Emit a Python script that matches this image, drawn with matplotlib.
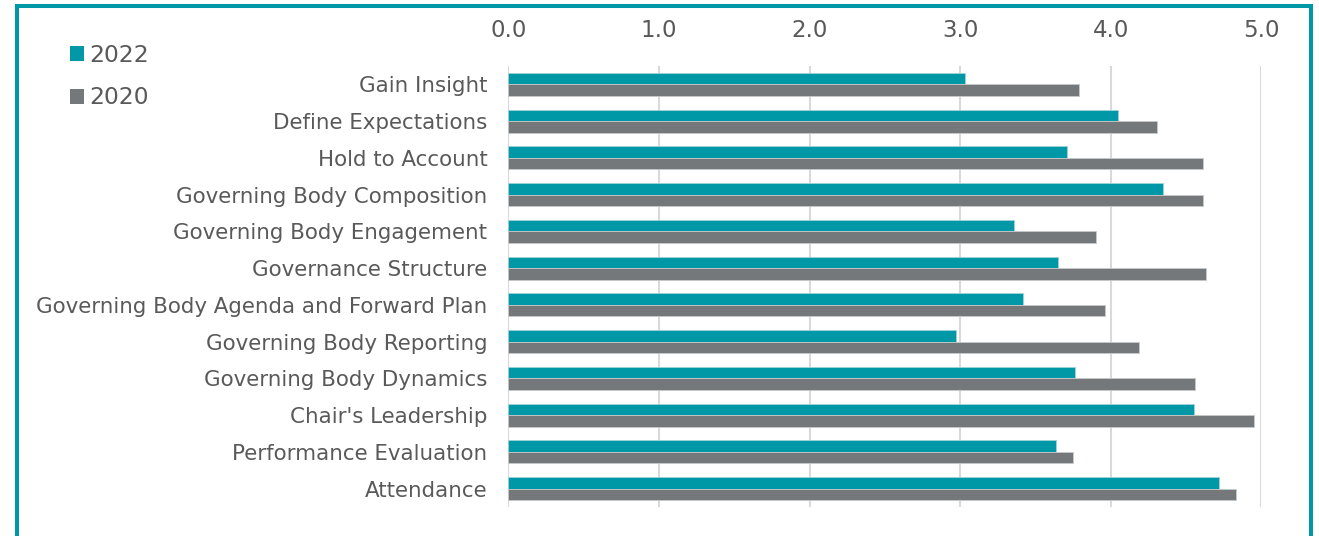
import matplotlib
matplotlib.use("Agg")
import matplotlib.pyplot as plt
import numpy as np
from matplotlib.patches import Patch, Rectangle

categories = ["Gain Insight", "Define Expectations", "Hold to Account",
              "Governing Body Composition", "Governing Body Engagement",
              "Governance Structure", "Governing Body Agenda and Forward Plan",
              "Governing Body Reporting", "Governing Body Dynamics",
              "Chair's Leadership", "Performance Evaluation", "Attendance"]
values_2022 = [3.03, 4.05, 3.71, 4.35, 3.36, 3.65, 3.42, 2.97, 3.76, 4.55, 3.64, 4.72]
values_2020 = [3.79, 4.31, 4.61, 4.61, 3.90, 4.63, 3.96, 4.19, 4.56, 4.95, 3.75, 4.83]
xticks = [0, 1, 2, 3, 4, 5]
xtick_labels = ["0.0", "1.0", "2.0", "3.0", "4.0", "5.0"]

TEAL = "#0097A7"
GRAY = "#75787B"
TEXT = "#595959"

W, H = 1319, 536
fig = plt.figure(figsize=(W / 100, H / 100), dpi=100)
ax = fig.add_axes([508.3 / W, 1 - 507 / H, (1261.3 - 508.3) / W, (507 - 66) / H])

y = np.arange(len(categories))
h = 0.31
ax.barh(y - h / 2, values_2022, height=h, color=TEAL, edgecolor="#9fd3da", linewidth=0.6, zorder=3)
ax.barh(y + h / 2, values_2020, height=h, color=GRAY, edgecolor="#c8c9ca", linewidth=0.6, zorder=3)

ax.set_ylim(len(categories) - 0.5, -0.5)
ax.set_xlim(0, 5)
ax.set_yticks(y)
ax.set_yticklabels(categories)
ax.set_xticks(xticks)
ax.set_xticklabels(xtick_labels)
ax.xaxis.tick_top()
ax.tick_params(axis="x", length=0, pad=17, labelsize=16.5, labelcolor=TEXT)
ax.tick_params(axis="y", length=0, pad=15, labelsize=15.4, labelcolor=TEXT)
for s in ax.spines.values():
    s.set_visible(False)
ax.grid(axis="x", color="#D9D9D9", linewidth=1.5, zorder=0)
ax.set_axisbelow(True)

handles = [Patch(facecolor=TEAL, edgecolor="none"), Patch(facecolor=GRAY, edgecolor="none")]
fig.legend(handles, ["2022", "2020"], loc="upper left",
           bbox_to_anchor=(58 / W, 1 - 32 / H), frameon=False,
           fontsize=16.8, labelcolor=TEXT, handlelength=0.6, handleheight=0.6,
           handletextpad=0.25, labelspacing=0.85, borderpad=0)

border = Rectangle((17 / W, -0.1), (1310.5 - 17) / W, 1.1 - 6 / H,
                   transform=fig.transFigure, fill=False, edgecolor=TEAL,
                   linewidth=2.9)
fig.patches.append(border)

fig.savefig("out.png", dpi=100)
